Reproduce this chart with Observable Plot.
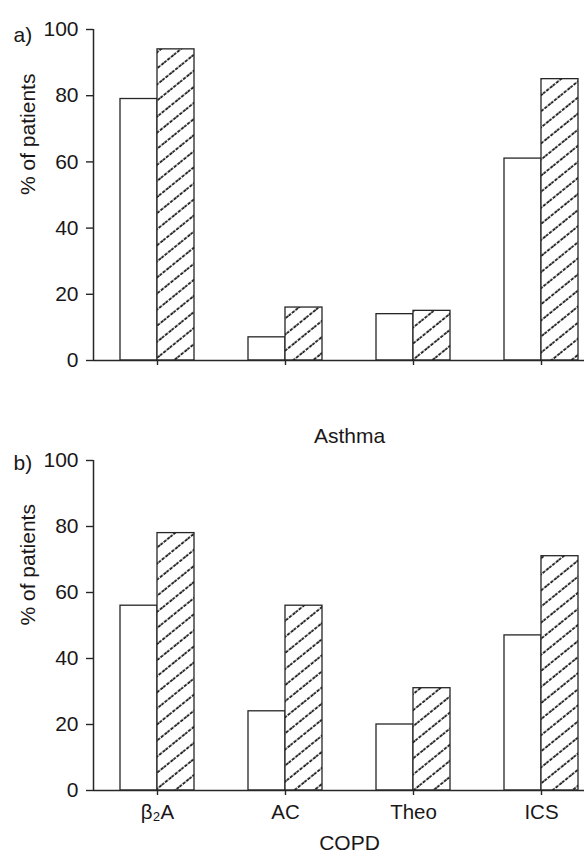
<!DOCTYPE html>
<html>
<head>
<meta charset="utf-8">
<script src="https://cdn.jsdelivr.net/npm/d3@7"></script>
<script src="https://cdn.jsdelivr.net/npm/@observablehq/plot@0.6"></script>
<style>
  html, body { margin: 0; padding: 0; background: #fff; }
  #chart { width: 584px; height: 859px; overflow: hidden; }
  #chart svg { display: block; }
</style>
</head>
<body>
<div id="chart"></div>
<script>
// ---- data ----
const drugs = ["β₂A", "AC", "Theo", "ICS"];
const yTicks = [0, 20, 40, 60, 80, 100];
const asthmaOpen = [79, 7, 14, 61];
const asthmaHatched = [94, 16, 15, 85];
const copdOpen = [56, 24, 20, 47];
const copdHatched = [78, 56, 31, 71];
const panelLetters = ["a)", "b)"];
const groupTitles = ["Asthma", "COPD"];
const yTitle = "% of patients";

const ink = "#1a1718";
const lineInk = "#262626";
const xRange = [93, 605];
const padIn = 0.422, padOut = 0.211;
const step = (xRange[1] - xRange[0]) / (drugs.length - padIn + 2 * padOut);
const bandwidth = step * (1 - padIn);
const half = bandwidth / 2;
const axisOffset = step * padOut + half; // from first band centre to range start

function panel({open, hatched, letter, title, showLabels, height, marginTop, marginBottom, patternId, letterDy}) {
  const openData = drugs.map((d, i) => ({drug: d, value: open[i]}));
  const hatchData = drugs.map((d, i) => ({drug: d, value: hatched[i]}));
  const svg = Plot.plot({
    width: 584,
    height,
    marginLeft: 93,
    marginRight: 0,
    marginTop,
    marginBottom,
    style: {fontFamily: "'Liberation Sans', Arial, sans-serif", fontSize: "20px", color: ink, background: "white", overflow: "visible"},
    x: {type: "band", domain: drugs, range: xRange, paddingInner: padIn, paddingOuter: padOut, align: 0.5, label: null},
    y: {domain: [0, 100], label: null},
    marks: [
      Plot.barY(openData, {x: "drug", y: "value", fill: "white", stroke: lineInk, strokeWidth: 1.3, insetLeft: 0, insetRight: half}),
      Plot.barY(hatchData, {x: "drug", y: "value", fill: `url(#${patternId})`, stroke: lineInk, strokeWidth: 1.3, insetLeft: half, insetRight: 0}),
      Plot.ruleY([0], {stroke: lineInk, strokeWidth: 1.5}),
      Plot.ruleX([drugs[0]], {x: d => d, dx: -axisOffset, stroke: lineInk, strokeWidth: 1.5}),
      Plot.axisY({ticks: yTicks, tickSize: 7, tickPadding: 8, label: null, stroke: lineInk, strokeOpacity: 1, strokeWidth: 1.4, fill: ink, fontSize: 21}),
      Plot.axisX({tickSize: 5, tickPadding: 9, label: null, stroke: lineInk, strokeOpacity: 1, strokeWidth: 1.4, fill: showLabels ? ink : "none", fontSize: 20.5}),
      Plot.text([letter], {frameAnchor: "top-left", textAnchor: "start", dx: -80, dy: letterDy, fill: ink, fontSize: 21}),
      Plot.text([yTitle], {frameAnchor: "left", rotate: -90, dx: -65, fill: ink, fontSize: 21}),
      Plot.text([title], {frameAnchor: "bottom", lineAnchor: "top", dx: 10.5, dy: showLabels ? 45 : 68, fill: ink, fontSize: 21})
    ]
  });
  const defs = d3.select(svg).insert("defs", ":first-child");
  const s = 12.5;
  const p = defs.append("pattern")
    .attr("id", patternId)
    .attr("patternUnits", "userSpaceOnUse")
    .attr("width", s)
    .attr("height", s)
    .attr("patternTransform", "rotate(51)");
  p.append("rect").attr("width", s).attr("height", s).attr("fill", "white");
  p.append("line").attr("x1", 2).attr("y1", 0).attr("x2", 2).attr("y2", s)
    .attr("stroke", "#000").attr("stroke-width", 1.6).attr("stroke-dasharray", "3.2 1.2");
  return svg;
}

const chart = document.getElementById("chart");
chart.append(panel({open: asthmaOpen, hatched: asthmaHatched, letter: panelLetters[0], title: groupTitles[0], showLabels: false,
  height: 447, marginTop: 29, marginBottom: 87, patternId: "hatchA", letterDy: -2}));
chart.append(panel({open: copdOpen, hatched: copdHatched, letter: panelLetters[1], title: groupTitles[1], showLabels: true,
  height: 412, marginTop: 13, marginBottom: 69, patternId: "hatchB", letterDy: -5}));
</script>
</body>
</html>
